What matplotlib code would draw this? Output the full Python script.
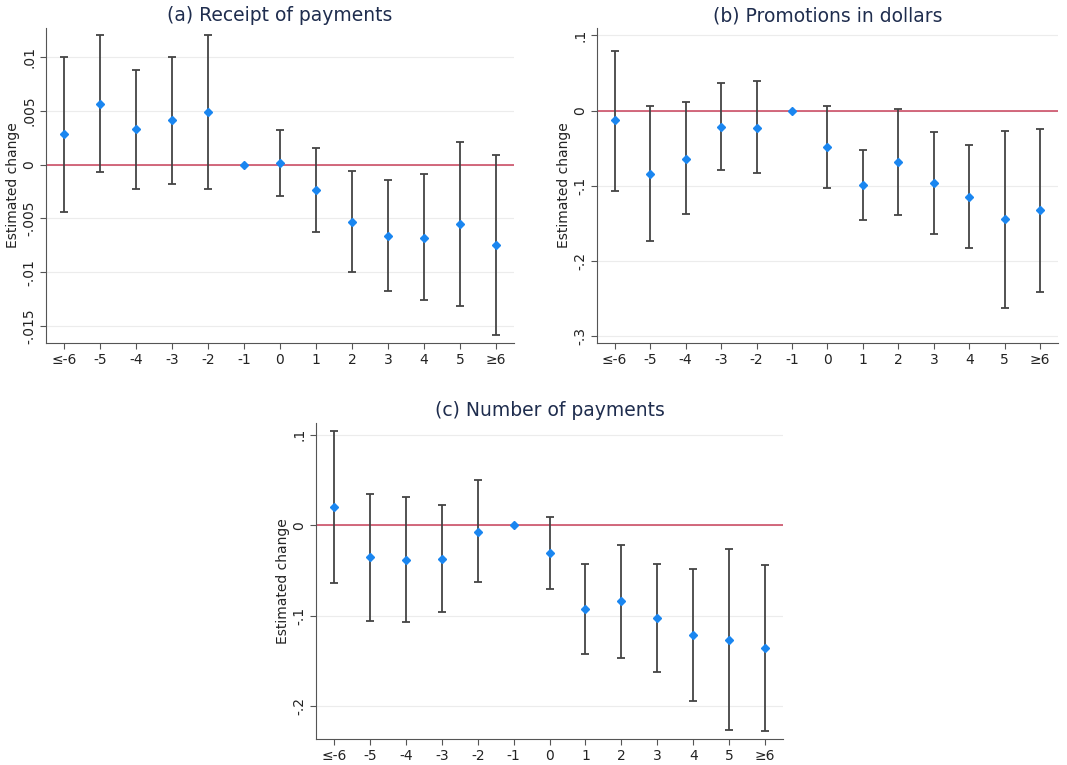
import numpy as np
import matplotlib.pyplot as plt

# event-time labels
labels = ['≤-6', '-5', '-4', '-3', '-2', '-1', '0', '1', '2', '3', '4', '5', '≥6']

# (a) receipt of payments
a_est = [0.0028, 0.00565, 0.00326, 0.0041, 0.00488, 0.0, 0.00012, -0.00233, -0.00531, -0.00665, -0.0068, -0.00556, -0.00752]
a_hi = [0.0100, 0.01205, 0.00882, 0.0100, 0.01205, 0.0, 0.0032, 0.00158, -0.00059, -0.00143, -0.0009, 0.00211, 0.0009]
a_lo = [-0.00438, -0.0007, -0.00227, -0.00177, -0.00227, 0.0, -0.00292, -0.00624, -0.00997, -0.0118, -0.01258, -0.0132, -0.01584]

# (b) promotions in dollars
b_est = [-0.0129, -0.084, -0.064, -0.0218, -0.0227, 0.0, -0.0484, -0.0991, -0.0689, -0.0973, -0.1147, -0.1449, -0.1333]
b_hi = [0.080, 0.0058, 0.0107, 0.0369, 0.0387, 0.0, 0.0062, -0.052, 0.0022, -0.0293, -0.0458, -0.0267, -0.0249]
b_lo = [-0.1067, -0.1742, -0.1382, -0.0796, -0.0831, 0.0, -0.1027, -0.1462, -0.1391, -0.1649, -0.1836, -0.2631, -0.2422]

# (c) number of payments
c_est = [0.0199, -0.0354, -0.038, -0.0369, -0.007, 0.0, -0.0306, -0.0923, -0.0841, -0.1026, -0.121, -0.1266, -0.1358]
c_hi = [0.104, 0.0347, 0.031, 0.0225, 0.0502, 0.0, 0.0096, -0.0424, -0.0214, -0.0424, -0.048, -0.0266, -0.0439]
c_lo = [-0.0638, -0.1052, -0.1063, -0.0956, -0.0631, 0.0, -0.0708, -0.1417, -0.1461, -0.1624, -0.1941, -0.2266, -0.2277]

a_ticks = [-0.015, -0.01, -0.005, 0, 0.005, 0.01]
a_ticklabels = ['-.015', '-.01', '-.005', '0', '.005', '.01']
b_ticks = [-0.3, -0.2, -0.1, 0, 0.1]
b_ticklabels = ['-.3', '-.2', '-.1', '0', '.1']
c_ticks = [-0.2, -0.1, 0, 0.1]
c_ticklabels = ['-.2', '-.1', '0', '.1']

title_col = '#1f2d4e'
dot_col = '#1a86f0'
red = '#c8405a'


def draw(ax, est, lo, hi, ticks, ticklabels, ylim, title):
    x = np.arange(len(labels))
    est = np.array(est)
    lo = np.array(lo)
    hi = np.array(hi)
    ax.axhline(0, color=red, lw=1.1, zorder=2)
    mask = np.arange(len(est)) != 5   # reference period has no interval
    ax.errorbar(x[mask], est[mask], yerr=[est[mask] - lo[mask], hi[mask] - est[mask]],
                fmt='none', ecolor='#444444', elinewidth=1.3, capsize=3.2, capthick=1.3, zorder=3)
    ax.plot(x, est, 'D', color=dot_col, ms=3.8, zorder=4)
    ax.set_xlim(-0.5, 12.5)
    ax.set_ylim(*ylim)
    ax.set_xticks(x)
    ax.set_xticklabels(labels, fontsize=10, color='#222222')
    ax.set_yticks(ticks)
    ax.set_yticklabels(ticklabels, rotation=90, va='center', fontsize=10, color='#222222')
    ax.yaxis.grid(True, color='#ececec', lw=0.8)
    ax.set_axisbelow(True)
    for s in ['top', 'right']:
        ax.spines[s].set_visible(False)
    for s in ['left', 'bottom']:
        ax.spines[s].set_color('#555555')
    ax.tick_params(color='#555555', length=4, pad=3)
    ax.set_ylabel('Estimated change', fontsize=10, color='#222222', labelpad=1.5)
    ax.set_title(title, fontsize=13.5, color=title_col, pad=5)


fig = plt.figure(figsize=(10.67, 7.65), dpi=100)
ax1 = fig.add_axes([0.0431, 0.5516, 0.4386, 0.4118])
ax2 = fig.add_axes([0.5595, 0.5516, 0.4320, 0.4118])
ax3 = fig.add_axes([0.2962, 0.0340, 0.4377, 0.4130])

draw(ax1, a_est, a_lo, a_hi, a_ticks, a_ticklabels, (-0.0166, 0.0127), '(a) Receipt of payments')
draw(ax2, b_est, b_lo, b_hi, b_ticks, b_ticklabels, (-0.310, 0.110), '(b) Promotions in dollars')
draw(ax3, c_est, c_lo, c_hi, c_ticks, c_ticklabels, (-0.236, 0.113), '(c) Number of payments')

fig.savefig('out.png', dpi=100)
